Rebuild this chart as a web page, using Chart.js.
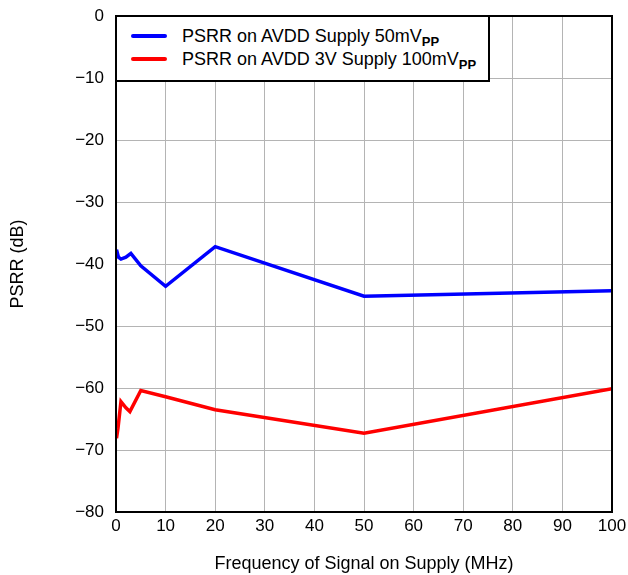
<!DOCTYPE html>
<html>
<head>
<meta charset="utf-8">
<script src="https://cdn.jsdelivr.net/npm/chart.js@4"></script>
<style>
  html, body { margin: 0; padding: 0; background: #fff; }
  #wrap { position: relative; width: 628px; height: 575px; }
  #legend {
    position: absolute; left: 115px; top: 15px; width: 371px; height: 63px;
    border: 2px solid #000; background: #fff;
    font-family: "Liberation Sans", Arial, sans-serif; font-size: 18px; color: #000;
  }
  .row { position: absolute; left: 14px; white-space: nowrap; line-height: 18px; height: 18px; }
  .sw { display: inline-block; width: 36px; height: 4px; border-radius: 2px; vertical-align: middle; margin-right: 15px; position: relative; top: -1px; }
  .row sub { font-weight: bold; font-size: 13px; vertical-align: -4px; line-height: 0; }
</style>
</head>
<body>
<div id="wrap">
  <canvas id="c" width="628" height="575"></canvas>
  <div id="legend">
    <div class="row" style="top:10px"><span class="sw" style="background:#0000ff"></span>PSRR on AVDD Supply 50mV<sub>PP</sub></div>
    <div class="row" style="top:33px"><span class="sw" style="background:#ff0000"></span>PSRR on AVDD 3V Supply 100mV<sub>PP</sub></div>
  </div>
</div>
<script>
const blueFreq = [0.1, 0.5, 1, 2, 3, 5, 10, 20, 50, 100];
const bluePsrr = [-37.7, -38.9, -39.2, -38.9, -38.3, -40.3, -43.6, -37.2, -45.2, -44.3];
const redFreq = [0.1, 0.4, 1, 2, 2.8, 5, 10, 20, 50, 100];
const redPsrr = [-68.1, -66.5, -62.2, -63.2, -63.8, -60.4, -61.4, -63.5, -67.3, -60.1];
const xTicks = [0, 10, 20, 30, 40, 50, 60, 70, 80, 90, 100];
const yTicks = [0, -10, -20, -30, -40, -50, -60, -70, -80];

const toPts = (xs, ys) => xs.map((x, i) => ({ x: x, y: ys[i] }));
const font = { family: '"Liberation Sans", Arial, sans-serif', size: 17 };

const framePlugin = {
  id: 'frame',
  afterDraw(chart) {
    const a = chart.chartArea, ctx = chart.ctx;
    ctx.save();
    ctx.strokeStyle = '#000';
    ctx.lineWidth = 2;
    ctx.strokeRect(a.left, a.top, a.right - a.left, a.bottom - a.top);
    ctx.restore();
  }
};

new Chart(document.getElementById('c'), {
  type: 'line',
  data: {
    datasets: [
      { label: 'PSRR on AVDD Supply 50mVPP', data: toPts(blueFreq, bluePsrr), borderColor: '#0000ff', borderWidth: 3.5, pointRadius: 0, tension: 0, fill: false },
      { label: 'PSRR on AVDD 3V Supply 100mVPP', data: toPts(redFreq, redPsrr), borderColor: '#ff0000', borderWidth: 3.5, pointRadius: 0, tension: 0, fill: false }
    ]
  },
  options: {
    responsive: false,
    animation: false,
    events: [],
    layout: { padding: { top: 16, right: 16, left: 0, bottom: 0 } },
    plugins: { legend: { display: false }, tooltip: { enabled: false } },
    scales: {
      x: {
        type: 'linear', min: 0, max: 100,
        afterBuildTicks: s => { s.ticks = xTicks.map(v => ({ value: v })); },
        afterFit: s => { s.height = 63; s.paddingLeft = 0; s.paddingRight = 0; },
        ticks: { color: '#000', font: font, padding: 4, maxRotation: 0 },
        grid: { color: '#b4b4b4', lineWidth: 1, drawTicks: false },
        border: { display: false },
        title: { display: true, text: 'Frequency of Signal on Supply (MHz)', color: '#000', font: { family: font.family, size: 18 }, padding: { top: 14, bottom: 0 } }
      },
      y: {
        type: 'linear', min: -80, max: 0,
        afterBuildTicks: s => { s.ticks = yTicks.map(v => ({ value: v })); },
        afterFit: s => { s.width = 116; s.paddingTop = 0; s.paddingBottom = 0; },
        ticks: { color: '#000', font: font, padding: 12, callback: v => String(v).replace('-', '\u2212') },
        grid: { color: '#b4b4b4', lineWidth: 1, drawTicks: false },
        border: { display: false },
        title: { display: true, text: 'PSRR (dB)', color: '#000', font: { family: font.family, size: 18 }, padding: { top: 7, bottom: 0 } }
      }
    }
  },
  plugins: [framePlugin]
});
</script>
</body>
</html>
